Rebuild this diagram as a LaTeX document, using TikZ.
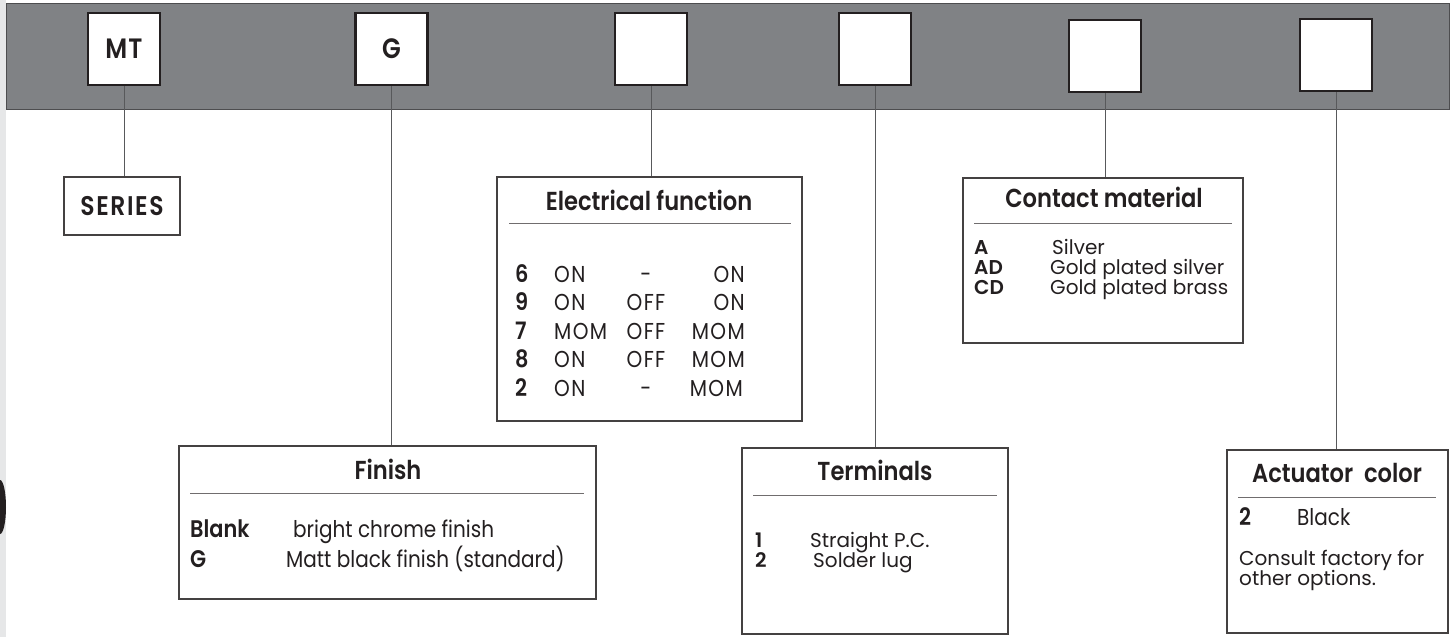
\documentclass[tikz,border=0pt]{standalone}
\usepackage{fontspec}
\setmainfont{Poppins}[BoldFont={* SemiBold},FakeStretch=0.87]
\newfontfamily\listfont{Poppins}[BoldFont={* SemiBold},FakeStretch=1.0]
\definecolor{band}{HTML}{808285}
\definecolor{bandline}{HTML}{4D4D4F}
\definecolor{ink}{HTML}{231F20}
\definecolor{wiregray}{HTML}{58595B}
\definecolor{strip}{HTML}{E6E7E8}

\begin{document}
\begin{tikzpicture}[x=1pt,y=1pt]
\tikzstyle{every node}+=[inner sep=0pt,text=ink]
\tikzstyle{codebox}=[draw=ink,line width=2.5pt,fill=white,minimum size=72pt,font=\fontsize{28}{30}\selectfont\bfseries\addfontfeature{LetterSpace=4}]
\tikzstyle{infobox}=[draw=ink!85,line width=1.2pt,fill=white]
\tikzstyle{headtext}=[anchor=base,font=\fontsize{26}{30}\selectfont\bfseries]
\tikzstyle{codetext}=[anchor=base west,text height=14pt,text depth=4pt,font=\fontsize{24}{28}\selectfont\bfseries]
\tikzstyle{desctext}=[anchor=base west,text height=14pt,text depth=4pt,font=\fontsize{23}{28}\selectfont]
\tikzstyle{capstext}=[desctext,font=\fontsize{23}{28}\selectfont\addfontfeature{LetterSpace=6}]
\tikzstyle{listcode}=[codetext,font=\listfont\fontsize{20}{20}\selectfont\bfseries]
\tikzstyle{listtext}=[desctext,font=\listfont\fontsize{20}{20}\selectfont]
\tikzstyle{wire}=[draw=wiregray,line width=1pt]
\tikzstyle{boxrule}=[draw=ink!65,line width=1pt]
\useasboundingbox (0,0) rectangle (1455,-637);
\fill [strip] (0,0) rectangle (6,-637);
\fill [ink] (0,-480) arc [start angle=90,end angle=-90,x radius=6,y radius=27];
\draw [draw=bandline,fill=band,line width=1pt] (6,-3) rectangle (1449,-109);
\node [codebox] (mt) at (124,-49) {MT};
\node [codebox] (g) at (391.5,-49) {G};
\node [codebox] (func) at (651,-49) {};
\node [codebox] (term) at (875,-49) {};
\node [codebox] (cont) at (1105,-56) {};
\node [codebox] (act) at (1336,-55) {};
\node [infobox,minimum width=116pt,minimum height=58pt,font=\fontsize{27}{30}\selectfont\bfseries\addfontfeature{LetterSpace=6}] (series) at (122,-206) {SERIES};
\node [infobox,minimum width=305pt,minimum height=244pt] (funcbox) at (649.5,-299) {};
\node [infobox,minimum width=417pt,minimum height=153pt] (finbox) at (387.5,-522.5) {};
\node [infobox,minimum width=266pt,minimum height=186pt] (termbox) at (875,-541) {};
\node [infobox,minimum width=280pt,minimum height=165pt] (contbox) at (1103,-260.5) {};
\node [infobox,minimum width=221pt,minimum height=183pt] (actbox) at (1337.5,-541.5) {};
\draw [wire] (mt.south) -- (mt.south |- series.north);
\draw [wire] (g.south) -- (g.south |- finbox.north);
\draw [wire] (func.south) -- (func.south |- funcbox.north);
\draw [wire] (term.south) -- (term.south |- termbox.north);
\draw [wire] (cont.south) -- (cont.south |- contbox.north);
\draw [wire] (act.south) -- (act.south |- actbox.north);
\node [headtext] (functitle) at (649,-210) {Electrical function};
\draw [boxrule] (509,-223) -- (791,-223);
\node [codetext] (f6) at (515,-282) {6};
\node [capstext] (f6a) at (554,-282) {ON};
\node [capstext,anchor=base] (f6b) at (646,-282) {-};
\node [capstext,anchor=base east] (f6c) at (745,-282) {ON};
\node [codetext] (f9) at (515,-310.5) {9};
\node [capstext] (f9a) at (554,-310.5) {ON};
\node [capstext,anchor=base] (f9b) at (646,-310.5) {OFF};
\node [capstext,anchor=base east] (f9c) at (745,-310.5) {ON};
\node [codetext] (f7) at (515,-339) {7};
\node [capstext] (f7a) at (554,-339) {MOM};
\node [capstext,anchor=base] (f7b) at (646,-339) {OFF};
\node [capstext,anchor=base east] (f7c) at (745,-339) {MOM};
\node [codetext] (f8) at (515,-367.5) {8};
\node [capstext] (f8a) at (554,-367.5) {ON};
\node [capstext,anchor=base] (f8b) at (646,-367.5) {OFF};
\node [capstext,anchor=base east] (f8c) at (745,-367.5) {MOM};
\node [codetext] (f2) at (515,-396) {2};
\node [capstext] (f2a) at (554,-396) {ON};
\node [capstext,anchor=base] (f2b) at (646,-396) {-};
\node [capstext,anchor=base east] (f2c) at (743,-396) {MOM};
\node [headtext] (fintitle) at (388,-479) {Finish};
\draw [boxrule] (190,-493) -- (584,-493);
\node [codetext] (finblank) at (190,-537) {Blank};
\node [desctext] (finblankd) at (293,-537) {bright chrome finish};
\node [codetext] (fing) at (190,-567) {G};
\node [desctext] (fingd) at (286,-567) {Matt black finish (standard)};
\node [headtext] (termtitle) at (875,-480) {Terminals};
\draw [boxrule] (753,-495) -- (997,-495);
\node [listcode] (term1) at (755,-547) {1};
\node [listtext] (term1d) at (810,-547) {Straight P.C.};
\node [listcode] (term2) at (755,-567) {2};
\node [listtext] (term2d) at (813,-567) {Solder lug};
\node [headtext] (conttitle) at (1104,-207) {Contact material};
\draw [boxrule] (974,-223) -- (1232,-223);
\node [listcode] (conta) at (974,-254) {A};
\node [listtext] (contad) at (1052,-254) {Silver};
\node [listcode] (contad2) at (974,-274) {AD};
\node [listtext] (contadd) at (1050,-274) {Gold plated silver};
\node [listcode] (contcd) at (974,-294) {CD};
\node [listtext] (contcdd) at (1050,-294) {Gold plated brass};
\node [headtext] (acttitle) at (1337,-482) {Actuator~~color};
\draw [boxrule] (1238,-497) -- (1436,-497);
\node [codetext] (act2) at (1239,-525) {2};
\node [desctext] (act2d) at (1297,-525) {Black};
\node [listtext] (actnote1) at (1239,-565) {Consult factory for};
\node [listtext] (actnote2) at (1239,-585) {other options.};
\end{tikzpicture}
\end{document}
